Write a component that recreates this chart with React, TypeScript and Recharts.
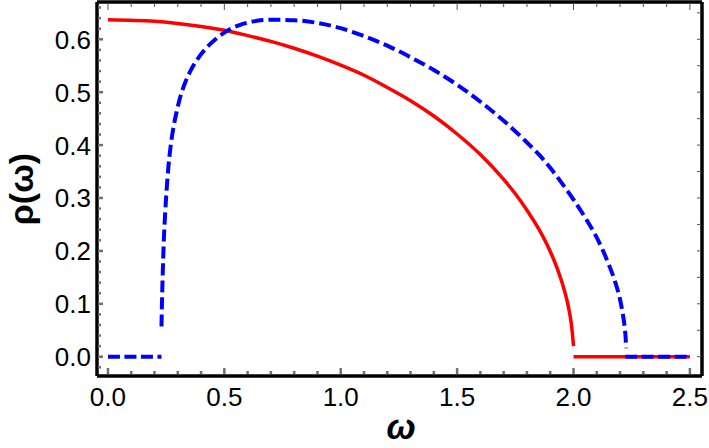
import { LineChart, Line, XAxis, YAxis } from 'recharts';

// red: solid curve and its zero tail
const redW = [0, 0.2, 0.4, 0.5, 0.6, 0.7, 0.8, 0.9, 1.0, 1.1, 1.2, 1.3, 1.4, 1.5, 1.6, 1.7, 1.75, 1.8, 1.85, 1.9, 1.93, 1.95, 1.97, 1.98, 1.99, 1.995, 2.0];
const redRho = [0.637, 0.634, 0.624, 0.617, 0.607, 0.596, 0.583, 0.568, 0.551, 0.532, 0.509, 0.484, 0.455, 0.421, 0.382, 0.335, 0.308, 0.277, 0.242, 0.199, 0.167, 0.141, 0.11, 0.09, 0.064, 0.045, 0.02];
const redTailW = [2.0, 2.5];
const redTailRho = [0, 0];

// blue: dashed, zero at low end, curve, zero at high end
const blueLowW = [0, 0.23];
const blueLowRho = [0, 0];
const blueW = [0.23, 0.232, 0.235, 0.24, 0.245, 0.252, 0.26, 0.269, 0.28, 0.295, 0.31, 0.33, 0.359, 0.39, 0.43, 0.47, 0.524, 0.58, 0.64, 0.71, 0.8, 0.9, 1.0, 1.1, 1.2, 1.3, 1.4, 1.5, 1.6, 1.7, 1.8, 1.856, 1.9, 1.95, 2.0, 2.05, 2.1, 2.15, 2.18, 2.2, 2.212, 2.22, 2.224, 2.226];
const blueRho = [0.057, 0.1, 0.151, 0.22, 0.265, 0.315, 0.36, 0.397, 0.43, 0.463, 0.49, 0.516, 0.544, 0.566, 0.587, 0.603, 0.619, 0.629, 0.635, 0.637, 0.636, 0.631, 0.621, 0.606, 0.588, 0.566, 0.542, 0.514, 0.482, 0.446, 0.405, 0.38, 0.357, 0.328, 0.297, 0.263, 0.225, 0.176, 0.14, 0.108, 0.08, 0.055, 0.035, 0.016];
const blueTailW = [2.222, 2.5];
const blueTailRho = [0, 0];

const xLabels = [0, 0.5, 1, 1.5, 2, 2.5];
const yLabels = [0, 0.1, 0.2, 0.3, 0.4, 0.5, 0.6];

const xDomain = [-0.047, 2.552];
const yDomain = [-0.0365, 0.6705];

const zip = (w: number[], r: number[]) => w.map((v, i) => ({ w: v, rho: r[i] }));

const steps = (from: number, to: number, step: number) => {
  const out: number[] = [];
  for (let i = 0; from + i * step <= to + 1e-9; i++) out.push(+(from + i * step).toFixed(4));
  return out;
};

const xMinor = steps(0, 2.5, 0.1);
const yLeftTicks = steps(-0.02, 0.66, 0.02);
const yRightTicks = steps(0, 0.65, 0.05);

const isMajor = (v: number, list: number[]) => list.some((m) => Math.abs(m - v) < 1e-6);

const font = '"Liberation Sans", Arial, sans-serif';
const tickGray = '#707070';

const fmt = (v: number) => v.toFixed(1);

// axes get 1px of size (recharts skips 0-sized axes); ticks are drawn inward by hand
function BottomTick(props: any) {
  const { x, y, payload } = props;
  const base = y - 1;
  const major = isMajor(payload.value, xLabels);
  return (
    <g>
      <line x1={x} x2={x} y1={base - 1} y2={base - (major ? 7 : 4)} stroke={tickGray} strokeWidth={2.5} />
      {major && (
        <text x={x} y={base + 31} textAnchor="middle" fontSize={26} fontFamily={font} fill="#000">
          {fmt(payload.value)}
        </text>
      )}
    </g>
  );
}

function TopTick(props: any) {
  const { x, y, payload } = props;
  const major = isMajor(payload.value, xLabels);
  return <line x1={x} x2={x} y1={y + 1} y2={y + (major ? 8 : 5)} stroke="#555" strokeWidth={1} />;
}

function LeftTick(props: any) {
  const { x, y, payload } = props;
  const major = isMajor(payload.value, yLabels);
  return (
    <g>
      <line x1={x + 1} x2={x + (major ? 6 : 4)} y1={y} y2={y} stroke={tickGray} strokeWidth={2.5} />
      {major && (
        <text x={x - 6} y={y + 9.5} textAnchor="end" fontSize={26} fontFamily={font} fill="#000">
          {fmt(payload.value)}
        </text>
      )}
    </g>
  );
}

function RightTick(props: any) {
  const { x, y } = props;
  return <line x1={x - 1} x2={x - 5} y1={y} y2={y} stroke="#555" strokeWidth={1} />;
}

export default function App() {
  const frame = { stroke: '#000', strokeWidth: 3.5 };
  return (
    <div style={{ position: 'absolute', left: 0, top: 0, background: '#fff' }}>
      <LineChart width={709} height={448} margin={{ top: 1, right: 6, bottom: 71, left: 96 }}>
        <XAxis
          xAxisId="b"
          dataKey="w"
          type="number"
          domain={xDomain}
          allowDataOverflow
          ticks={xMinor}
          interval={0}
          height={1}
          tickSize={0}
          tickMargin={0}
          tickLine={false}
          axisLine={frame}
          tick={BottomTick}
          label={{
            content: () => (
              <text x={401} y={439} textAnchor="middle" fontSize={35} fontWeight="bold" fontStyle="italic" fontFamily={font} fill="#000">
                ω
              </text>
            ),
          }}
        />
        <XAxis
          xAxisId="t"
          orientation="top"
          dataKey="w"
          type="number"
          domain={xDomain}
          allowDataOverflow
          ticks={xMinor}
          interval={0}
          height={1}
          tickSize={0}
          tickMargin={0}
          tickLine={false}
          axisLine={frame}
          tick={TopTick}
        />
        <YAxis
          yAxisId="l"
          type="number"
          domain={yDomain}
          allowDataOverflow
          ticks={yLeftTicks}
          interval={0}
          width={1}
          tickSize={0}
          tickMargin={0}
          tickLine={false}
          axisLine={frame}
          tick={LeftTick}
          label={{
            content: () => (
              <text x={33} y={189} transform="rotate(-90, 33, 189)" textAnchor="middle" fontSize={34} fontWeight="bold" fontFamily={font} fill="#000">
                ρ(ω)
              </text>
            ),
          }}
        />
        <YAxis
          yAxisId="r"
          orientation="right"
          type="number"
          domain={yDomain}
          allowDataOverflow
          ticks={yRightTicks}
          interval={0}
          width={1}
          tickSize={0}
          tickMargin={0}
          tickLine={false}
          axisLine={frame}
          tick={RightTick}
        />
        <Line xAxisId="b" yAxisId="l" data={zip(redW, redRho)} dataKey="rho" type="monotone" stroke="#ff0000" strokeWidth={3.5} dot={false} isAnimationActive={false} />
        <Line xAxisId="b" yAxisId="l" data={zip(redTailW, redTailRho)} dataKey="rho" type="linear" stroke="#ff0000" strokeWidth={3.5} dot={false} isAnimationActive={false} />
        <Line xAxisId="b" yAxisId="l" data={zip(blueLowW, blueLowRho)} dataKey="rho" type="linear" stroke="#0000ff" strokeWidth={4} strokeDasharray="12 4.5" dot={false} isAnimationActive={false} />
        <Line xAxisId="b" yAxisId="l" data={zip(blueW, blueRho)} dataKey="rho" type="monotone" stroke="#0000ff" strokeWidth={4} strokeDasharray="12 5" dot={false} isAnimationActive={false} />
        <Line xAxisId="b" yAxisId="l" data={zip(blueTailW, blueTailRho)} dataKey="rho" type="linear" stroke="#0000ff" strokeWidth={4} strokeDasharray="12 4.5" dot={false} isAnimationActive={false} />
      </LineChart>
    </div>
  );
}
